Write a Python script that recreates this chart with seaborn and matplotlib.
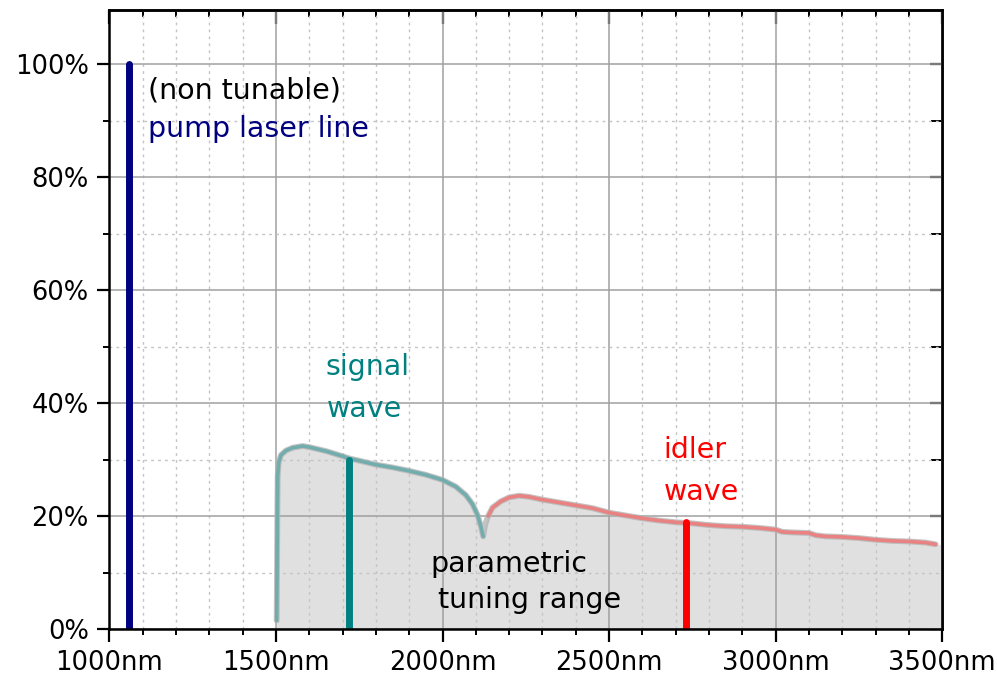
import matplotlib
matplotlib.use("Agg")
import matplotlib.pyplot as plt
from matplotlib.ticker import MultipleLocator, FuncFormatter
import numpy as np
import pandas as pd
import seaborn as sns

# Signal branch of the OPO tuning curve (wavelength in nm, relative power in %)
signal_nm = [1502, 1503, 1504, 1505, 1508, 1515, 1530, 1550, 1580, 1600, 1650, 1700,
             1720, 1750, 1800, 1850, 1900, 1950, 2000, 2040, 2070, 2090, 2105, 2115, 2122]
signal_pct = [1.5, 10, 20, 27, 29.5, 30.8, 31.6, 32.1, 32.4, 32.2, 31.5, 30.6,
              30.2, 29.8, 29.1, 28.6, 28.0, 27.3, 26.4, 25.2, 23.7, 22.1, 20.2, 18.2, 16.4]

# Idler branch
idler_nm = [2122, 2128, 2137, 2150, 2175, 2200, 2230, 2260, 2300, 2350, 2400, 2450,
            2500, 2550, 2600, 2650, 2700, 2750, 2800, 2850, 2900, 2950, 3000, 3020,
            3050, 3100, 3120, 3150, 3200, 3250, 3300, 3350, 3400, 3450, 3480]
idler_pct = [16.4, 18.5, 20.0, 21.5, 22.6, 23.3, 23.6, 23.4, 22.9, 22.4, 21.9, 21.4,
             20.6, 20.1, 19.6, 19.2, 18.9, 18.7, 18.4, 18.2, 18.1, 17.9, 17.6, 17.2,
             17.1, 17.0, 16.6, 16.4, 16.3, 16.1, 15.8, 15.6, 15.5, 15.3, 15.0]

# Discrete lines: pump (fixed), example signal and idler wavelengths
line_names = ["pump", "signal", "idler"]
line_nm = [1060, 1720, 2730]
line_pct = [100, 30, 19]
line_colors = ["#000080", "#008080", "#ff0000"]

sns.set_style("white")
plt.rcParams["font.family"] = ["DejaVu Sans"]
plt.rcParams["xtick.color"] = "black"
plt.rcParams["ytick.color"] = "black"

fig = plt.figure(figsize=(9.97, 6.77), dpi=100)
ax = fig.add_axes([0.1098, 0.0709, 0.8352, 0.9143])

sig = pd.DataFrame({"nm": signal_nm, "pct": signal_pct})
idl = pd.DataFrame({"nm": idler_nm, "pct": idler_pct})

# grey area under the whole tuning curve
fill_x = signal_nm + idler_nm[1:] + [3500]
fill_y = signal_pct + idler_pct[1:] + [idler_pct[-1]]
ax.fill_between(fill_x, 0, fill_y, color="#e0e0e0", lw=0, zorder=0.3)

# soft grey outline beneath the coloured curves
sns.lineplot(data=pd.concat([sig, idl]), x="nm", y="pct", ax=ax, color="#b4b4b4",
             lw=4.2, sort=False, zorder=2, alpha=0.8)
sns.lineplot(data=sig, x="nm", y="pct", ax=ax, color="#6aabab", lw=2.6,
             sort=False, zorder=3, alpha=0.9)
sns.lineplot(data=idl.iloc[2:], x="nm", y="pct", ax=ax, color="#ee7b7b", lw=2.6,
             sort=False, zorder=3, alpha=0.9)

for x, h, c in zip(line_nm, line_pct, line_colors):
    ax.vlines(x, 0, h, color=c, lw=5.0, zorder=4, capstyle="round")

ax.set_xlim(1000, 3500)
ax.set_ylim(0, 109.6)
ax.set_xlabel("")
ax.set_ylabel("")

ax.xaxis.set_major_locator(MultipleLocator(500))
ax.xaxis.set_minor_locator(MultipleLocator(100))
ax.yaxis.set_major_locator(MultipleLocator(20))
ax.yaxis.set_minor_locator(MultipleLocator(10))
ax.xaxis.set_major_formatter(FuncFormatter(lambda v, p: f"{v:.0f}nm"))
ax.yaxis.set_major_formatter(FuncFormatter(lambda v, p: f"{v:.0f}%"))

ax.set_axisbelow(True)
ax.grid(which="major", color="#a0a0a0", lw=1.1, ls="-")
ax.grid(which="minor", color="#c4c4c4", lw=1.0, ls=(0, (2, 3)))

ax.tick_params(which="major", direction="out", length=9, width=1.6,
               labelsize=18.5, pad=6, colors="black", bottom=True, left=True,
               top=False, right=False)
ax.tick_params(which="minor", direction="out", length=4, width=1.4, colors="black",
               bottom=True, left=True, top=False, right=False)

for s in ax.spines.values():
    s.set_color("black")
    s.set_linewidth(1.8)
    s.set_zorder(5)

# inward ticks on top and right frame
top = ax.secondary_xaxis("top")
top.xaxis.set_major_locator(MultipleLocator(500))
top.xaxis.set_minor_locator(MultipleLocator(100))
top.tick_params(which="major", direction="in", length=10, width=1.6,
                colors="black", labeltop=False)
top.tick_params(which="minor", direction="in", length=5, width=1.4, colors="black")
top.spines["top"].set_linewidth(1.8)
top.spines["top"].set_color("black")
right = ax.secondary_yaxis("right")
right.yaxis.set_major_locator(MultipleLocator(20))
right.yaxis.set_minor_locator(MultipleLocator(10))
right.tick_params(which="major", direction="in", length=9, width=1.6,
                  colors="black", labelright=False)
right.tick_params(which="minor", direction="in", length=8, width=1.4, colors="black")
right.spines["right"].set_linewidth(1.8)
right.spines["right"].set_color("black")

fs = 20.5
ax.text(1115, 94.0, "(non tunable)", color="black", fontsize=fs, va="baseline")
ax.text(1115, 87.1, "pump laser line", color="#000080", fontsize=fs, va="baseline")
ax.text(1650, 45.0, "signal", color="#008080", fontsize=fs, va="baseline")
ax.text(1652, 37.6, "wave", color="#008080", fontsize=fs, va="baseline")
ax.text(2663, 30.2, "idler", color="#ff0000", fontsize=fs, va="baseline")
ax.text(2663, 22.8, "wave", color="#ff0000", fontsize=fs, va="baseline")
ax.text(1962, 10.1, "parametric", color="black", fontsize=fs, va="baseline")
ax.text(1987, 3.7, "tuning range", color="black", fontsize=fs, va="baseline")

fig.savefig("out.png", dpi=100)
